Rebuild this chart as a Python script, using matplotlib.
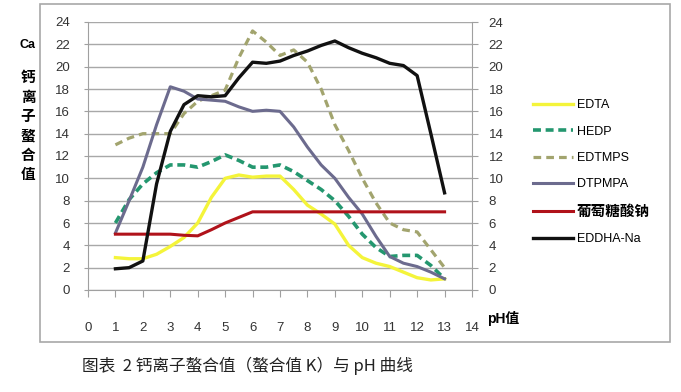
import matplotlib
matplotlib.use("Agg")
import matplotlib.pyplot as plt
from matplotlib.patches import Rectangle

plt.rcParams['font.family'] = ['Liberation Sans', 'Noto Sans CJK SC', 'DejaVu Sans']

# pH 取值（每半个单位读一次）
ph = [1, 1.5, 2, 2.5, 3, 3.5, 4, 4.5, 5, 5.5, 6, 6.5, 7, 7.5, 8, 8.5, 9, 9.5, 10, 10.5, 11, 11.5, 12, 12.5, 13]

edta = [2.9, 2.8, 2.8, 3.2, 3.9, 4.7, 6.0, 8.3, 10.0, 10.3, 10.1, 10.2, 10.2, 9.0, 7.6, 6.8, 5.9, 4.0, 2.9, 2.4, 2.1, 1.6, 1.1, 0.9, 1.0]
hedp = [6.0, 8.1, 9.5, 10.5, 11.2, 11.2, 11.0, 11.5, 12.1, 11.6, 11.0, 11.0, 11.2, 10.6, 9.8, 9.0, 8.0, 6.6, 5.0, 3.8, 3.0, 3.1, 3.1, 2.2, 1.0]
edtmps = [13.0, 13.6, 14.0, 14.0, 14.0, 15.8, 16.9, 17.4, 17.9, 20.8, 23.2, 22.2, 21.0, 21.5, 20.4, 18.0, 14.8, 12.5, 10.0, 7.8, 6.0, 5.4, 5.2, 3.6, 2.0]
dtpmpa = [5.1, 8.0, 11.0, 14.8, 18.2, 17.8, 17.1, 17.0, 16.9, 16.4, 16.0, 16.1, 16.0, 14.6, 12.8, 11.2, 10.0, 8.3, 6.8, 4.8, 3.0, 2.4, 2.1, 1.6, 1.0]
gluconate = [5.0, 5.0, 5.0, 5.0, 5.0, 4.9, 4.85, 5.4, 6.0, 6.5, 7.0, 7.0, 7.0, 7.0, 7.0, 7.0, 7.0, 7.0, 7.0, 7.0, 7.0, 7.0, 7.0, 7.0, 7.0]
eddha = [1.9, 2.0, 2.6, 9.5, 14.2, 16.6, 17.4, 17.3, 17.4, 19.0, 20.4, 20.3, 20.5, 21.0, 21.4, 21.9, 22.3, 21.7, 21.2, 20.8, 20.3, 20.1, 19.2, 14.0, 8.7]

x_ticks = list(range(0, 15))
y_ticks = list(range(0, 25, 2))

fig = plt.figure(figsize=(6.81, 3.92), dpi=100)
ax = fig.add_axes([88 / 681, 1 - 290 / 392, (472 - 88) / 681, (290 - 22) / 392])

ax.plot(ph, edta, color='#f4f43a', lw=2.4, label='EDTA')
ax.plot(ph, hedp, color='#24976f', lw=2.6, ls=(0, (2.2, 1.3)), label='HEDP')
ax.plot(ph, edtmps, color='#a2a46e', lw=2.3, ls=(0, (2.4, 1.6)), label='EDTMPS')
ax.plot(ph, dtpmpa, color='#6c6b8e', lw=2.2, label='DTPMPA')
ax.plot(ph, gluconate, color='#b0121a', lw=2.2, label='葡萄糖酸钠')
ax.plot(ph, eddha, color='#111111', lw=2.4, label='EDDHA-Na')

ax.set_xlim(0, 14)
ax.set_ylim(0, 24)
ax.set_xticks(x_ticks)
ax.set_yticks(y_ticks)
ax.grid(axis='y', color='#a8a8a8', lw=1.0)
ax.set_axisbelow(True)
for s in ['top', 'right']:
    ax.spines[s].set_visible(False)
ax.spines['left'].set_color('#a0a0a0')
ax.spines['bottom'].set_color('#a0a0a0')
ax.tick_params(axis='x', length=5, color='#a0a0a0', pad=18, labelsize=9.5, labelcolor='#333333')
ax.tick_params(axis='y', length=3, color='#a0a0a0', pad=10, labelsize=9.5, labelcolor='#333333')

ax2 = ax.twinx()
ax2.set_ylim(0, 24)
ax2.set_yticks(y_ticks)
for s in ['top', 'left', 'bottom']:
    ax2.spines[s].set_visible(False)
ax2.spines['right'].set_color('#a0a0a0')
ax2.tick_params(axis='y', length=4, color='#a0a0a0', pad=8, labelsize=9.5, labelcolor='#333333')

# 轴标题
fig.text(28 / 681, 1 - 45 / 392, 'Ca', ha='center', va='center', fontsize=9, fontweight='bold')
for i, ch in enumerate('钙离子螯合值'):
    fig.text(28 / 681, 1 - (78 + i * 19.5) / 392, ch, ha='center', va='center', fontsize=10.5, fontweight='bold')
fig.text(487 / 681, 1 - 318 / 392, 'pH值', ha='left', va='center', fontsize=10, fontweight='bold')

# 图例
handles, labels = ax.get_legend_handles_labels()
leg = fig.legend(handles, labels, loc='upper left', bbox_to_anchor=(522 / 681, 1 - 88 / 392),
                 frameon=False, fontsize=9, handlelength=3.2, labelspacing=1.15, handletextpad=0.3)
for t in leg.get_texts():
    if t.get_text() == '葡萄糖酸钠':
        t.set_fontsize(10.5)
        t.set_fontweight('bold')

# 外框
fig.patches.append(Rectangle((40 / 681, 1 - 342 / 392), 630 / 681, 338 / 392, transform=fig.transFigure,
                             fill=False, edgecolor='#a8a8a8', lw=1.2))

fig.text(82 / 681, 1 - 366 / 392, '图表  2 钙离子螯合值（螯合值 K）与 pH 曲线', ha='left', va='center',
         fontsize=12, family=['Noto Sans CJK SC', 'DejaVu Sans'], color='#222222')

fig.savefig('out.png', dpi=100)
